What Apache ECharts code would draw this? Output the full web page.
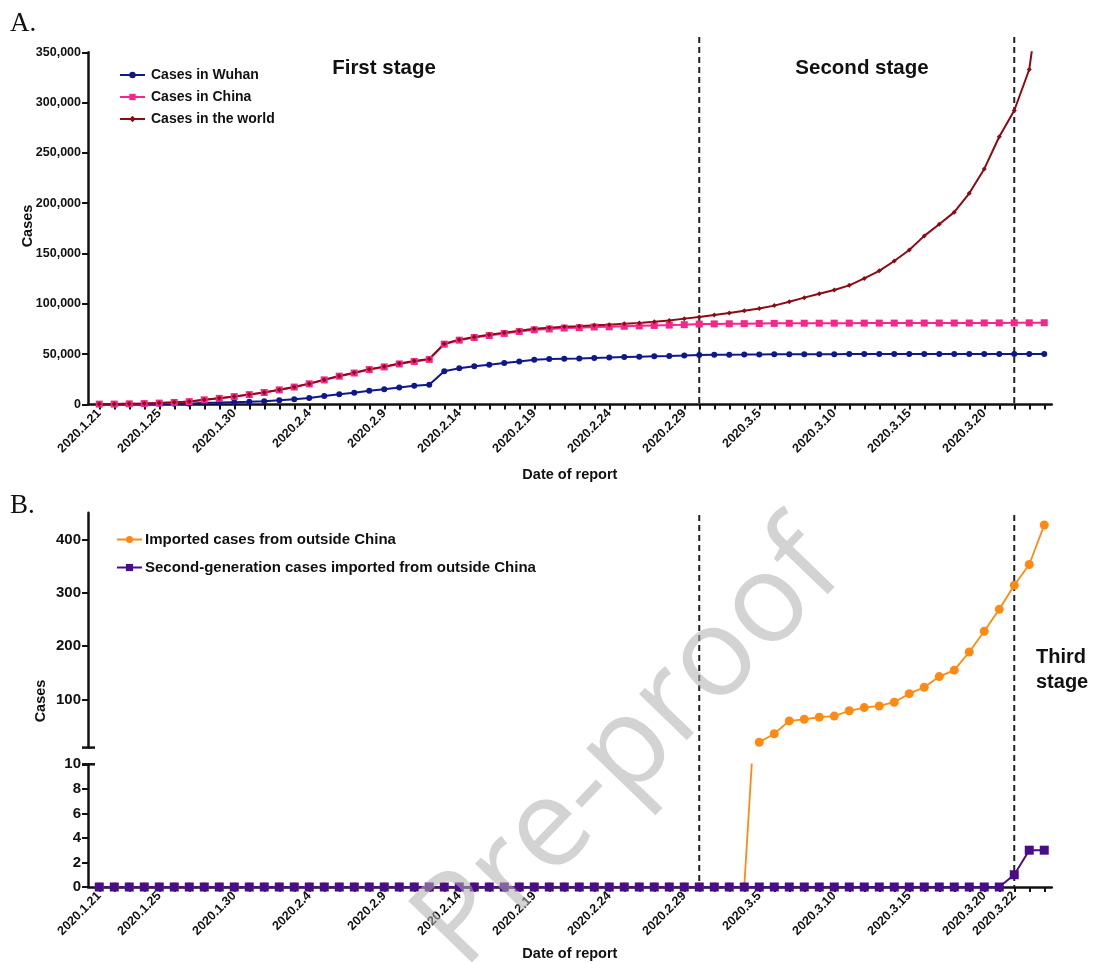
<!DOCTYPE html>
<html>
<head>
<meta charset="utf-8">
<script src="https://cdn.jsdelivr.net/npm/echarts@6/dist/echarts.min.js"></script>
<style>
  html, body { margin: 0; padding: 0; background: #fff; }
  #main { width: 1093px; height: 962px; }
</style>
</head>
<body>
<div id="main"></div>
<script>
// dates of report, one per day
var dates = [
  '2020.1.21','2020.1.22','2020.1.23','2020.1.24','2020.1.25','2020.1.26','2020.1.27','2020.1.28','2020.1.29','2020.1.30','2020.1.31',
  '2020.2.1','2020.2.2','2020.2.3','2020.2.4','2020.2.5','2020.2.6','2020.2.7','2020.2.8','2020.2.9','2020.2.10',
  '2020.2.11','2020.2.12','2020.2.13','2020.2.14','2020.2.15','2020.2.16','2020.2.17','2020.2.18','2020.2.19','2020.2.20',
  '2020.2.21','2020.2.22','2020.2.23','2020.2.24','2020.2.25','2020.2.26','2020.2.27','2020.2.28','2020.2.29',
  '2020.3.1','2020.3.2','2020.3.3','2020.3.4','2020.3.5','2020.3.6','2020.3.7','2020.3.8','2020.3.9','2020.3.10',
  '2020.3.11','2020.3.12','2020.3.13','2020.3.14','2020.3.15','2020.3.16','2020.3.17','2020.3.18','2020.3.19','2020.3.20',
  '2020.3.21','2020.3.22','2020.3.23','2020.3.24'
];
// labelled dates on the x axes
var labelsA = ['2020.1.21','2020.1.25','2020.1.30','2020.2.4','2020.2.9','2020.2.14','2020.2.19','2020.2.24','2020.2.29','2020.3.5','2020.3.10','2020.3.15','2020.3.20'];
var labelsB = ['2020.1.21','2020.1.25','2020.1.30','2020.2.4','2020.2.9','2020.2.14','2020.2.19','2020.2.24','2020.2.29','2020.3.5','2020.3.10','2020.3.15','2020.3.20','2020.3.22'];
// stage boundaries (dashed lines)
var stageDates = ['2020.3.1', '2020.3.22'];

var wuhan = [258,270,375,495,572,618,698,1590,1905,2261,2639,
  3215,4109,5142,6384,8351,10117,11618,13603,14982,16902,
  18454,19558,32994,35991,37914,39462,41152,42752,44412,45027,
  45346,45660,46201,46607,47071,47441,47824,48137,48557,
  49122,49315,49426,49540,49671,49797,49871,49912,49948,49965,
  49978,49986,49991,49995,49999,50003,50004,50005,50005,50005,
  50005,50006,50006,50006];
var china = [278,309,571,830,1297,1985,2761,4537,5997,7736,9720,
  11821,14411,17238,20471,24363,28060,31211,34598,37251,40235,
  42708,44730,59882,63851,66492,68500,70548,72436,74185,75002,
  75891,76288,76936,77150,77658,78064,78497,78824,79251,
  79824,80026,80151,80270,80409,80552,80651,80695,80735,80754,
  80778,80793,80813,80824,80844,80860,80881,80894,80928,80967,
  81008,81054,81093,81171];
var world = [282,314,581,846,1320,2014,2798,4593,6065,7818,9826,
  11953,14557,17391,20630,24554,28276,31481,34886,37558,40554,
  43103,45171,60329,64356,67018,69183,71342,73240,75109,76075,
  77091,77690,78705,79219,80117,80982,82161,83515,85260,
  86993,88948,90870,93090,95324,98192,102015,106135,109991,113702,
  118319,125260,132758,142534,153517,167515,179111,191127,209839,234073,
  266073,292142,332930,440000];
var imported = [0,0,0,0,0,0,0,0,0,0,0,
  0,0,0,0,0,0,0,0,0,0,
  0,0,0,0,0,0,0,0,0,0,
  0,0,0,0,0,0,0,0,0,
  0,0,0,0,20,36,60,63,67,69,
  79,85,88,95,111,123,143,155,189,228,
  269,314,353,427];
var secondGen = [0,0,0,0,0,0,0,0,0,0,0,
  0,0,0,0,0,0,0,0,0,0,
  0,0,0,0,0,0,0,0,0,0,
  0,0,0,0,0,0,0,0,0,
  0,0,0,0,0,0,0,0,0,0,
  0,0,0,0,0,0,0,0,0,0,
  0,1,3,3];

(function(){
  var font = 'Liberation Sans';
  var black = '#111';
  var myChart = echarts.init(document.getElementById('main'));

  function pairs(arr){
    return arr.map(function(v, i){ return [i, v]; });
  }
  function idx(list){
    return list.map(function(d){ return dates.indexOf(d); });
  }
  var dayTicks = dates.map(function(d, i){ return i; });
  function comma(v){
    return String(v).replace(/\B(?=(\d{3})+(?!\d))/g, ',');
  }

  function xAxisFor(grid, labels, show, name, gap){
    return {
      type: 'value', gridIndex: grid, min: -0.75, max: 63.5,
      show: show,
      splitLine: {show: false},
      axisLine: {onZero: false, lineStyle: {color: black, width: 2.5}},
      axisTick: {customValues: dayTicks, length: 5, lineStyle: {color: black, width: 2}},
      axisLabel: {
        customValues: idx(labels), rotate: 45, margin: 7,
        color: black, fontFamily: font, fontWeight: 'bold', fontSize: 12.5,
        formatter: function(v){ return dates[v]; }
      },
      name: name, nameLocation: 'middle', nameGap: gap,
      nameTextStyle: {color: black, fontFamily: font, fontWeight: 'bold', fontSize: 14.5}
    };
  }
  function yStyle(o, size){
    o.splitLine = {show: false};
    o.axisLine = {show: true, onZero: false, lineStyle: {color: black, width: 2.5}};
    o.axisTick = o.axisTick || {};
    o.axisTick.show = true;
    o.axisTick.length = 6;
    o.axisTick.lineStyle = {color: black, width: 2};
    o.axisLabel = o.axisLabel || {};
    o.axisLabel.color = black;
    o.axisLabel.fontFamily = font;
    o.axisLabel.fontWeight = 'bold';
    o.axisLabel.fontSize = size;
    o.axisLabel.margin = 7;
    return o;
  }

  var option = {
    animation: false,
    backgroundColor: '#fff',
    textStyle: {fontFamily: font},
    grid: [
      {left: 88, top: 52.3, width: 963.75, height: 352.1, outerBoundsMode: 'none'},
      {left: 88, top: 512.7, width: 963.75, height: 234.9, outerBoundsMode: 'none'},
      {left: 88, top: 764.3, width: 963.75, height: 122.7, outerBoundsMode: 'none'}
    ],
    legend: [
      {
        data: ['Cases in Wuhan', 'Cases in China', 'Cases in the world'],
        orient: 'vertical', left: 114, top: 63,
        itemWidth: 25, itemHeight: 8, itemGap: 8,
        textStyle: {color: black, fontFamily: font, fontWeight: 'bold', fontSize: 14, lineHeight: 14, padding: [0, 0, 0, 1]}
      },
      {
        data: ['Imported cases from outside China', 'Second-generation cases imported from outside China'],
        orient: 'vertical', left: 111, top: 527,
        itemWidth: 25, itemHeight: 9, itemGap: 13,
        textStyle: {color: black, fontFamily: font, fontWeight: 'bold', fontSize: 15, lineHeight: 15, padding: [0, 0, 0, -2]}
      }
    ],
    xAxis: [
      xAxisFor(0, labelsA, true, 'Date of report', 63),
      xAxisFor(1, labelsB, false, '', 60),
      xAxisFor(2, labelsB, true, 'Date of report', 59)
    ],
    yAxis: [
      yStyle({
        type: 'value', gridIndex: 0, min: 0, max: 350000, interval: 50000,
        axisLabel: {formatter: comma}
      }, 12.5),
      yStyle({
        type: 'value', gridIndex: 1, min: 10, max: 450,
        axisTick: {customValues: [100, 200, 300, 400]},
        axisLabel: {customValues: [100, 200, 300, 400]}
      }, 15),
      yStyle({
        type: 'value', gridIndex: 2, min: 0, max: 10, interval: 2
      }, 15)
    ],
    series: [
      {
        name: 'Cases in Wuhan', type: 'line', xAxisIndex: 0, yAxisIndex: 0,
        data: pairs(wuhan), symbol: 'circle', symbolSize: 6,
        itemStyle: {color: '#0f178c'}, lineStyle: {color: '#0f178c', width: 2}
      },
      {
        name: 'Cases in China', type: 'line', xAxisIndex: 0, yAxisIndex: 0,
        data: pairs(china), symbol: 'rect', symbolSize: 7,
        itemStyle: {color: '#f7268a'}, lineStyle: {color: '#f7268a', width: 2}
      },
      {
        name: 'Cases in the world', type: 'line', xAxisIndex: 0, yAxisIndex: 0,
        data: pairs(world), symbol: 'diamond', symbolSize: 5,
        itemStyle: {color: '#8c0a14'}, lineStyle: {color: '#8c0a14', width: 2}
      },
      {
        // upper part of the broken axis, only values on the upper scale
        name: 'Imported cases from outside China', type: 'line', xAxisIndex: 1, yAxisIndex: 1,
        data: pairs(imported).filter(function(p){ return p[1] >= 10; }),
        symbol: 'circle', symbolSize: 9,
        itemStyle: {color: '#ff8a12'}, lineStyle: {color: '#ff8a12', width: 1.8}
      },
      {
        name: 'Imported cases from outside China', type: 'line', xAxisIndex: 2, yAxisIndex: 2,
        data: pairs(imported), symbol: 'circle', symbolSize: 9,
        itemStyle: {color: '#ff8a12'}, lineStyle: {color: '#ff8a12', width: 1.8}
      },
      {
        name: 'Second-generation cases imported from outside China', type: 'line', xAxisIndex: 2, yAxisIndex: 2,
        data: pairs(secondGen), symbol: 'rect', symbolSize: 9,
        itemStyle: {color: '#4a0d88'}, lineStyle: {color: '#4a0d88', width: 2}
      }
    ]
  };
  myChart.setOption(option);

  // dashed stage lines, axis break caps and texts
  var g = [];
  var dash = {stroke: '#222', lineWidth: 2, lineDash: [6, 4]};
  idx(stageDates).forEach(function(d){
    var a = myChart.convertToPixel({gridIndex: 0}, [d, 0]);
    var b = myChart.convertToPixel({gridIndex: 2}, [d, 0]);
    g.push({type: 'line', shape: {x1: a[0], y1: 37, x2: a[0], y2: a[1]}, style: dash, z: 1});
    g.push({type: 'line', shape: {x1: b[0], y1: 515, x2: b[0], y2: b[1]}, style: dash, z: 1});
  });
  var c1 = myChart.convertToPixel({gridIndex: 1}, [-0.75, 10]);
  var c2 = myChart.convertToPixel({gridIndex: 2}, [-0.75, 10]);
  [c1, c2].forEach(function(c){
    g.push({type: 'line', shape: {x1: c[0] - 6, y1: c[1], x2: c[0] + 7, y2: c[1]}, style: {stroke: black, lineWidth: 2.5}, z: 5});
  });
  var bold = function(size){ return 'bold ' + size + 'px "' + font + '"'; };
  g.push({type: 'text', x: 10, y: 24, style: {text: 'A.', font: '27px "Liberation Serif"', fill: black, textVerticalAlign: 'middle'}});
  g.push({type: 'text', x: 10, y: 506, style: {text: 'B.', font: '27px "Liberation Serif"', fill: black, textVerticalAlign: 'middle'}});
  g.push({type: 'text', x: 384, y: 68, style: {text: 'First stage', font: bold(20.5), fill: black, textAlign: 'center', textVerticalAlign: 'middle'}});
  g.push({type: 'text', x: 862, y: 68, style: {text: 'Second stage', font: bold(20.5), fill: black, textAlign: 'center', textVerticalAlign: 'middle'}});
  g.push({type: 'text', x: 1036, y: 670, style: {text: 'Third\nstage', font: bold(20), lineHeight: 25, fill: black, textAlign: 'left', textVerticalAlign: 'middle'}});
  g.push({type: 'text', x: 28, y: 226, rotation: Math.PI / 2, style: {text: 'Cases', font: bold(14.5), fill: black, textAlign: 'center', textVerticalAlign: 'middle'}});
  g.push({type: 'text', x: 41, y: 701, rotation: Math.PI / 2, style: {text: 'Cases', font: bold(14.5), fill: black, textAlign: 'center', textVerticalAlign: 'middle'}});
  // watermark
  g.push({type: 'text', x: 630, y: 748, rotation: 46 * Math.PI / 180, z: 100,
    style: {text: 'Pre-proof', font: '124px "Open Sans"', fill: 'rgba(175,175,175,0.55)', textAlign: 'center', textVerticalAlign: 'middle'}});
  myChart.setOption({graphic: g});

  window.addEventListener('resize', function(){
    myChart.resize();
  });
})();
</script>
</body>
</html>
